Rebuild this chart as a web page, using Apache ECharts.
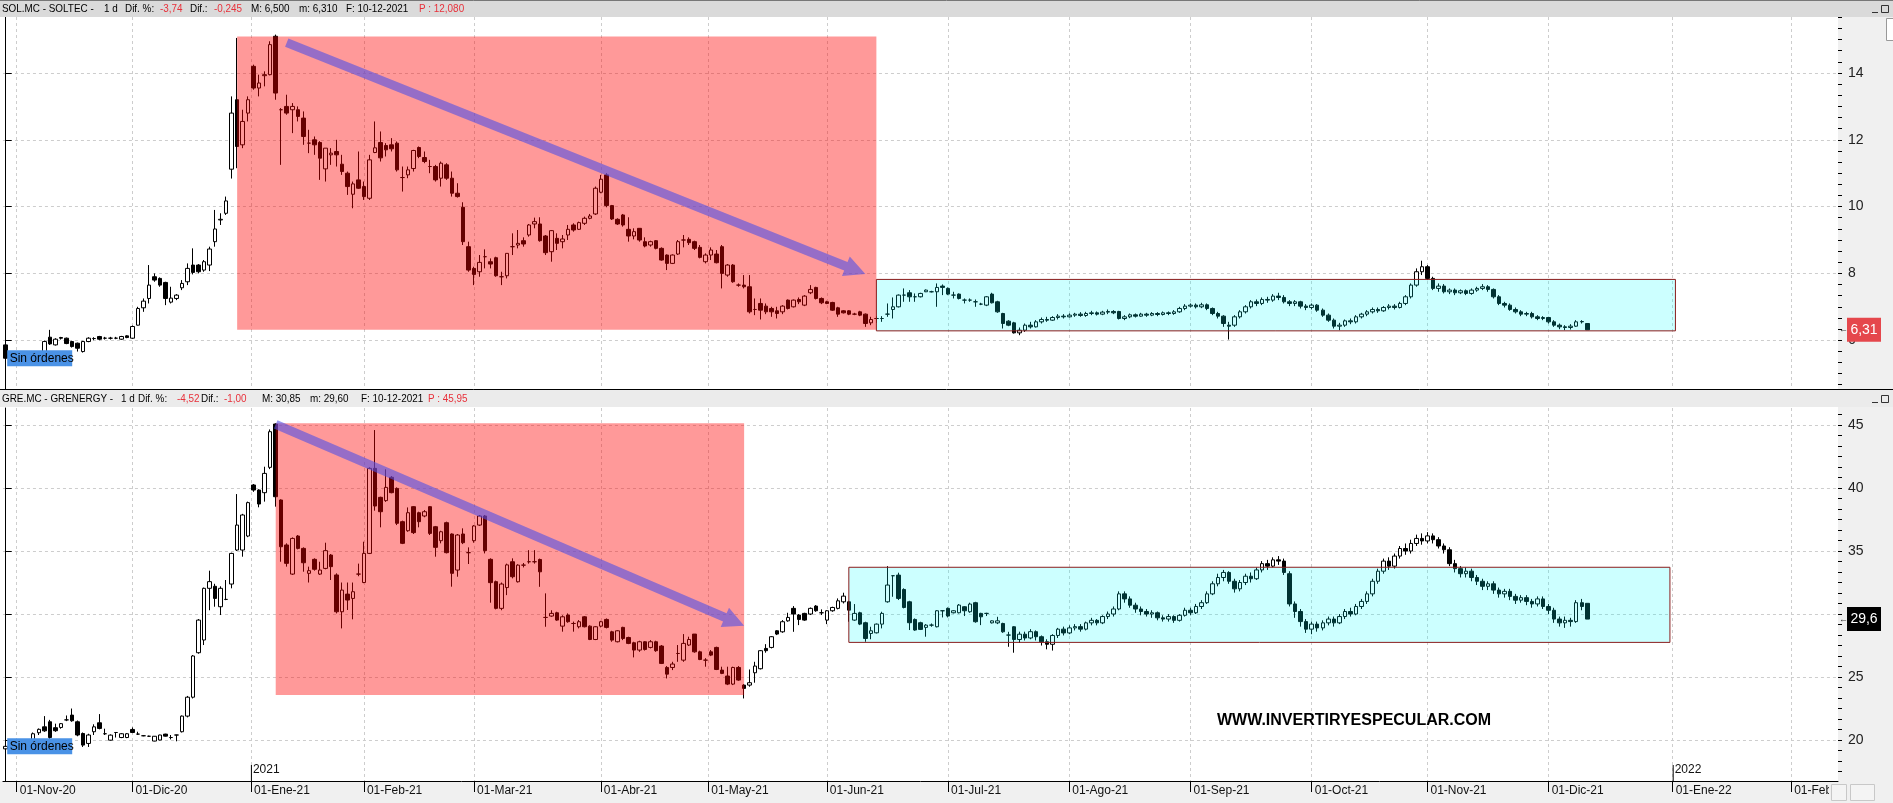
<!DOCTYPE html>
<html>
<head>
<meta charset="utf-8">
<script src="https://cdn.jsdelivr.net/npm/echarts@6.0.0/dist/echarts.min.js"></script>
<style>html,body{margin:0;padding:0;background:#fff;}#c{width:1893px;height:803px;}</style>
</head>
<body>
<div id="c"></div>
<script>
// ---------- axis / category definitions ----------
const firstDay = '2020-10-29';
const lastDay = '2022-02-11';
const holidays = ['2020-12-25', '2021-01-01', '2021-04-02', '2021-04-05'];
const monthNames = ['Ene','Feb','Mar','Abr','May','Jun','Jul','Ago','Sep','Oct','Nov','Dic'];
const monthStarts = ['2020-11-01','2020-12-01','2021-01-01','2021-02-01','2021-03-01','2021-04-01','2021-05-01','2021-06-01','2021-07-01','2021-08-01','2021-09-01','2021-10-01','2021-11-01','2021-12-01','2022-01-01','2022-02-01'];
const yearMarks = ['2021','2022'];
const solTicks = [6, 8, 10, 12, 14];
const greTicks = [20, 25, 30, 35, 40, 45];
const solRange = [4.539, 15.677];
const greRange = [16.75, 46.35];

// ---------- SOLTEC daily candles [open, close, low, high] ----------
const solOHLC = [
[5.86,5.46,5.31,6.01],[5.45,5.5,5.38,5.58],[5.5,5.45,5.4,5.55],[5.45,5.52,5.4,5.58],[5.52,5.48,5.42,5.56],[5.48,5.55,5.44,5.6],[5.55,5.6,5.5,5.65],[5.62,5.96,5.58,5.99],
[6.09,5.89,5.86,6.31],[5.86,6.03,5.84,6.06],[6.08,6.06,6.02,6.1],[6.06,5.9,5.88,6.08],[5.96,5.81,5.78,5.98],[5.91,5.76,5.66,5.93],[5.66,5.96,5.63,5.98],[5.96,6.06,5.94,6.09],
[6.05,6.05,6.0,6.09],[6.11,6.03,6.0,6.13],[6.06,6.06,6.02,6.1],[6.06,6.06,6.02,6.1],[6.06,6.06,6.03,6.1],[6.03,6.11,6.01,6.13],[6.13,6.08,6.06,6.15],[6.06,6.41,6.04,6.44],
[6.45,6.95,6.44,7.0],[6.97,7.17,6.85,7.25],[7.25,7.65,7.1,8.25],[7.9,7.8,7.75,8.0],[7.85,7.65,7.6,7.88],[7.73,7.25,7.05,7.75],[7.14,7.26,7.1,7.6],[7.25,7.35,7.2,7.38],
[7.57,7.7,7.5,7.8],[7.75,8.15,7.65,8.3],[8.25,8.03,7.97,8.75],[8.25,8.05,8.0,8.28],[8.1,8.35,8.05,8.4],[8.25,8.73,8.07,8.8],[8.95,9.33,8.8,9.9],[9.6,9.62,9.45,9.8],
[9.8,10.17,9.75,10.3],[11.12,12.8,10.84,13.3],[13.2,11.8,11.15,15.05],[11.85,12.55,11.75,12.9],[12.8,13.2,12.55,13.3],[14.2,13.55,13.5,14.25],[13.55,13.7,13.3,13.95],[13.92,13.95,13.6,14.05],
[13.95,14.85,13.93,14.95],[15.1,13.4,13.2,15.15],[12.9,12.9,11.25,12.95],[13.0,12.8,12.75,13.35],[12.9,13.0,12.2,13.1],[12.9,12.7,12.55,13.0],[12.65,12.1,11.85,12.85],[11.9,11.9,11.6,12.3],
[12.0,11.85,11.55,12.1],[11.92,11.45,10.8,11.96],[11.13,11.75,10.75,11.75],[11.55,11.6,11.25,11.75],[11.65,11.55,11.2,12.0],[11.27,11.05,10.95,11.55],[11.0,10.6,10.35,11.05],[10.37,10.68,9.95,10.75],
[10.8,10.55,10.53,11.65],[10.6,10.3,10.2,10.75],[10.25,11.4,10.2,11.55],[11.62,11.76,11.6,12.55],[11.92,11.46,11.35,12.25],[11.83,11.7,11.5,11.9],[11.85,11.73,11.65,12.05],[11.9,11.1,11.05,11.95],
[10.87,10.87,10.45,11.2],[10.95,11.1,10.85,11.2],[11.14,11.68,11.05,11.7],[11.77,11.5,11.45,11.8],[11.47,11.35,11.3,11.65],[11.2,11.2,11.0,11.4],[11.2,10.8,10.75,11.25],[10.85,11.3,10.6,11.35],
[11.25,10.85,10.8,11.3],[10.85,10.4,10.3,11.05],[10.4,10.3,10.27,10.7],[9.98,8.95,8.85,10.13],[8.8,8.1,8.05,8.95],[8.15,7.97,7.65,8.2],[8.05,8.33,7.9,8.55],[8.5,8.5,8.15,8.72],
[8.35,8.28,8.15,8.45],[8.47,7.93,7.9,8.5],[7.9,7.9,7.65,8.05],[7.93,8.6,7.85,8.6],[8.8,8.8,8.55,9.2],[8.85,8.9,8.75,9.3],[8.98,8.88,8.8,9.08],[9.15,9.45,9.1,9.48],
[9.48,9.55,9.35,9.67],[9.48,8.98,8.95,9.68],[9.12,8.62,8.55,9.15],[8.65,9.28,8.35,9.3],[9.05,8.9,8.7,9.2],[8.95,9.03,8.75,9.15],[9.15,9.32,9.0,9.45],[9.45,9.3,9.25,9.5],
[9.32,9.52,9.3,9.55],[9.5,9.65,9.45,9.7],[9.65,9.72,9.62,9.78],[9.78,10.55,9.75,10.6],[10.43,10.82,10.4,10.95],[10.95,10.03,9.98,11.0],[10.03,9.63,9.6,10.05],[9.62,9.48,9.45,9.65],
[9.75,9.45,9.4,9.78],[9.32,9.12,8.95,9.68],[9.12,9.25,9.02,9.35],[9.35,9.0,8.95,9.35],[8.95,8.82,8.78,9.08],[8.85,8.95,8.8,8.98],[8.98,8.75,8.72,9.0],[8.75,8.4,8.38,8.78],
[8.55,8.3,8.1,8.57],[8.3,8.55,8.28,8.57],[8.58,8.95,8.55,9.0],[9.0,9.0,8.78,9.15],[9.02,8.92,8.85,9.08],[8.95,8.75,8.7,8.98],[8.78,8.48,8.45,8.85],[8.35,8.55,8.3,8.6],
[8.55,8.7,8.4,8.78],[8.58,8.32,8.3,8.7],[8.8,8.0,7.55,8.85],[7.95,8.25,7.9,8.28],[8.25,7.75,7.72,8.28],[7.65,7.65,7.6,7.7],[7.65,7.6,7.55,7.95],[7.6,6.85,6.8,7.95],
[6.92,6.92,6.75,7.25],[7.1,6.9,6.62,7.25],[7.02,6.85,6.78,7.1],[6.95,6.85,6.7,7.0],[6.88,6.8,6.65,7.0],[6.85,7.02,6.78,7.05],[7.2,6.95,6.92,7.22],[7.0,7.2,6.98,7.22],
[7.22,7.15,7.08,7.28],[7.05,7.32,7.02,7.35],[7.42,7.52,7.38,7.65],[7.58,7.25,7.22,7.6],[7.25,7.12,7.08,7.28],[7.15,7.1,7.08,7.18],[7.13,6.9,6.88,7.15],[6.97,6.78,6.7,7.0],
[6.88,6.82,6.8,6.9],[6.88,6.78,6.75,6.9],[6.78,6.78,6.75,6.82],[6.85,6.75,6.72,6.88],[6.78,6.5,6.4,6.8],[6.52,6.62,6.45,6.7],[6.65,6.65,6.52,6.72],[6.65,6.65,6.55,6.72],
[6.78,6.78,6.7,7.1],[6.92,7.0,6.65,7.28],[7.0,7.35,6.98,7.37],[7.35,7.35,7.15,7.55],[7.42,7.3,7.15,7.5],[7.3,7.3,7.15,7.4],[7.3,7.4,7.28,7.42],[7.45,7.5,7.44,7.52],
[7.45,7.45,7.43,7.48],[7.45,7.58,7.0,7.7],[7.62,7.58,7.35,7.67],[7.55,7.38,7.35,7.58],[7.35,7.35,7.25,7.45],[7.38,7.25,7.22,7.4],[7.2,7.2,7.1,7.25],[7.2,7.2,7.15,7.25],
[7.15,7.15,7.0,7.22],[7.08,7.08,7.05,7.12],[7.05,7.3,7.02,7.32],[7.38,7.12,7.1,7.42],[7.15,6.85,6.82,7.18],[6.8,6.5,6.35,6.82],[6.57,6.45,6.42,6.6],[6.52,6.22,6.2,6.55],
[6.22,6.3,6.15,6.38],[6.3,6.45,6.25,6.5],[6.45,6.4,6.35,6.55],[6.4,6.55,6.38,6.6],[6.55,6.62,6.5,6.68],[6.62,6.6,6.55,6.7],[6.6,6.68,6.58,6.72],[6.68,6.72,6.62,6.78],
[6.72,6.7,6.65,6.78],[6.7,6.75,6.68,6.8],[6.75,6.78,6.7,6.82],[6.78,6.74,6.7,6.84],[6.74,6.8,6.7,6.85],[6.8,6.82,6.75,6.88],[6.82,6.78,6.74,6.86],[6.78,6.84,6.75,6.88],
[6.84,6.86,6.78,6.92],[6.86,6.82,6.78,6.9],[6.86,6.65,6.62,6.88],[6.65,6.7,6.6,6.75],[6.7,6.76,6.66,6.8],[6.76,6.72,6.68,6.8],[6.72,6.78,6.7,6.82],[6.78,6.75,6.7,6.82],
[6.75,6.8,6.72,6.84],[6.8,6.77,6.72,6.84],[6.77,6.82,6.74,6.86],[6.82,6.8,6.75,6.86],[6.8,6.85,6.76,6.9],[6.85,6.95,6.82,7.0],[6.95,7.02,6.9,7.08],[7.02,7.05,6.98,7.1],
[7.05,7.0,6.95,7.1],[7.0,7.06,6.96,7.12],[7.06,6.95,6.9,7.1],[6.95,6.8,6.75,6.98],[6.8,6.72,6.65,6.85],[6.72,6.5,6.4,6.75],[6.45,6.42,6.02,6.55],[6.45,6.7,6.4,6.75],
[6.7,6.85,6.65,6.9],[6.85,7.0,6.8,7.05],[7.0,7.15,6.95,7.2],[7.15,7.1,7.02,7.22],[7.1,7.22,7.05,7.28],[7.22,7.2,7.12,7.3],[7.2,7.32,7.15,7.38],[7.32,7.28,7.2,7.42],
[7.28,7.15,7.1,7.35],[7.15,7.1,7.02,7.2],[7.1,7.15,7.02,7.2],[7.15,7.02,6.95,7.18],[7.02,6.98,6.9,7.08],[6.98,7.05,6.92,7.1],[7.05,6.9,6.85,7.08],[6.9,6.75,6.7,6.95],
[6.75,6.6,6.55,6.8],[6.6,6.42,6.35,6.65],[6.42,6.45,6.3,6.52],[6.45,6.58,6.4,6.62],[6.58,6.55,6.48,6.65],[6.55,6.7,6.5,6.75],[6.7,6.78,6.65,6.82],[6.78,6.85,6.72,6.9],
[6.85,6.92,6.8,6.98],[6.92,6.88,6.82,6.98],[6.88,6.98,6.85,7.02],[6.98,7.02,6.92,7.08],[7.02,6.98,6.92,7.08],[6.98,7.1,6.95,7.15],[7.1,7.3,7.05,7.35],[7.3,7.65,7.25,7.7],
[7.65,8.05,7.6,8.15],[8.05,8.2,7.95,8.38],[8.2,7.85,7.8,8.25],[7.85,7.55,7.5,7.9],[7.55,7.62,7.45,7.7],[7.62,7.45,7.4,7.68],[7.45,7.5,7.38,7.55],[7.5,7.42,7.35,7.55],
[7.42,7.48,7.38,7.52],[7.48,7.4,7.35,7.52],[7.4,7.5,7.36,7.55],[7.5,7.55,7.45,7.6],[7.55,7.6,7.5,7.68],[7.6,7.52,7.45,7.65],[7.52,7.3,7.25,7.55],[7.3,7.1,7.05,7.35],
[7.1,7.05,6.98,7.15],[7.05,6.92,6.88,7.1],[6.92,6.85,6.8,6.98],[6.85,6.78,6.72,6.9],[6.78,6.8,6.72,6.85],[6.8,6.7,6.65,6.85],[6.7,6.65,6.6,6.75],[6.65,6.68,6.6,6.72],
[6.68,6.55,6.5,6.7],[6.55,6.45,6.4,6.6],[6.45,6.4,6.33,6.5],[6.4,6.38,6.3,6.45],[6.38,6.42,6.32,6.48],[6.42,6.55,6.4,6.6],[6.55,6.56,6.5,6.6],[6.5,6.31,6.31,6.5]
];

// ---------- GRENERGY daily candles [open, close, low, high] ----------
const greOHLC = [
[19.3,19.5,19.2,19.6],[19.5,19.6,19.3,19.8],[19.6,19.4,19.2,19.7],[19.4,19.5,19.2,19.7],[19.5,19.7,19.4,19.8],[19.86,20.5,19.8,20.6],[20.58,20.85,20.4,20.92],[21.05,20.73,20.65,21.9],
[21.45,20.2,20.05,21.6],[20.98,20.74,20.65,21.3],[21.0,21.3,20.9,21.35],[21.6,21.6,21.5,21.95],[21.98,21.53,21.45,22.5],[21.45,20.4,20.3,21.55],[20.52,19.6,19.45,20.6],[19.73,20.4,19.45,20.5],
[20.66,21.05,20.4,21.25],[21.37,20.92,20.85,22.06],[20.5,20.5,20.4,20.9],[19.99,20.39,19.95,20.45],[20.6,20.6,20.2,20.62],[20.2,20.5,20.15,20.55],[20.2,20.5,20.15,20.55],[20.84,20.6,20.55,21.0],
[20.47,20.47,20.4,20.66],[20.34,20.34,20.3,20.4],[20.3,20.3,20.25,20.35],[19.92,20.3,19.9,20.32],[20.0,20.4,19.98,20.42],[20.47,20.31,20.28,20.5],[20.2,20.2,20.05,20.4],[20.4,20.4,19.9,20.42],
[20.66,21.9,20.6,21.95],[21.9,23.4,21.8,23.5],[23.4,26.67,23.3,26.75],[26.93,29.52,26.85,29.6],[27.94,32.04,27.54,32.1],[32.04,32.57,30.3,33.44],[32.2,31.24,30.58,32.4],[30.58,32.04,29.92,32.2],
[31.16,31.16,31.1,32.7],[32.38,34.81,32.04,34.87],[35.08,37.06,35.0,39.52],[35.08,37.86,34.55,37.95],[36.19,38.84,36.1,38.92],[40.24,39.84,39.7,40.32],[39.84,38.73,38.47,39.9],[39.63,41.16,38.92,41.69],
[41.64,44.47,41.5,44.65],[45.08,39.31,38.52,45.13],[39.05,35.34,34.15,39.1],[35.48,34.02,33.76,35.61],[33.17,36.0,33.1,36.08],[36.19,35.21,35.13,36.27],[35.21,34.07,33.36,35.29],[33.23,33.44,32.5,33.76],
[34.34,33.55,33.44,34.42],[33.17,33.49,33.1,34.15],[33.62,35.03,33.55,35.66],[34.68,33.76,32.7,34.76],[33.1,30.18,30.05,33.23],[30.18,31.9,28.86,32.5],[31.58,31.11,30.32,32.5],[31.24,31.77,29.58,32.5],
[33.17,33.17,33.0,34.0],[32.5,34.81,32.45,35.74],[34.81,41.56,34.76,41.64],[41.56,38.57,38.2,44.6],[39.26,38.12,36.88,39.31],[39.0,40.05,38.9,41.48],[40.85,39.63,39.58,40.95],[39.97,37.2,37.06,40.05],
[37.33,35.61,35.55,37.41],[36.61,38.04,36.53,38.46],[38.52,36.46,36.35,38.57],[38.04,37.33,36.88,38.12],[37.78,38.12,37.68,38.25],[38.52,36.4,36.27,38.57],[36.93,35.29,34.55,36.99],[35.82,36.53,35.61,36.61],
[37.25,34.87,34.81,37.33],[36.35,33.23,32.17,36.4],[33.49,36.27,32.96,36.35],[36.35,35.66,35.55,36.8],[34.87,34.87,33.97,35.29],[35.82,36.99,35.66,37.06],[37.06,37.78,36.99,37.86],[37.78,35.03,34.81,37.86],
[34.34,32.49,30.9,34.42],[32.57,30.45,30.37,32.65],[30.45,32.38,30.3,32.5],[32.1,33.9,31.5,34.0],[34.15,32.96,32.83,34.42],[32.56,33.88,32.5,33.95],[33.88,33.88,33.7,34.05],[34.15,34.15,34.0,35.07],
[34.15,34.15,34.0,35.07],[34.33,33.35,32.16,34.4],[29.73,29.73,28.99,31.64],[29.84,30.05,29.78,30.3],[30.1,29.52,29.46,30.18],[29.04,29.78,28.6,29.9],[29.92,29.39,29.31,30.05],[29.25,29.25,28.6,29.4],
[28.99,29.39,28.86,29.52],[29.78,28.99,28.94,29.84],[29.04,27.98,27.93,29.1],[27.98,28.99,27.93,29.04],[29.04,29.39,28.94,29.46],[29.57,28.94,28.86,29.65],[28.59,27.93,27.8,28.67],[27.8,28.67,27.75,28.72],
[28.94,28.06,27.93,28.99],[28.14,27.67,27.61,28.2],[27.72,27.14,26.56,27.8],[27.14,27.8,27.0,27.88],[27.8,27.19,27.1,27.85],[27.35,27.8,27.27,27.93],[27.8,27.09,27.0,27.88],[27.46,26.08,26.03,27.54],
[25.76,25.23,24.89,25.87],[25.76,26.03,25.55,26.21],[26.87,26.87,26.21,27.54],[26.34,27.67,26.21,28.41],[27.54,27.98,27.46,28.2],[28.41,27.0,26.93,28.41],[27.0,26.39,26.34,27.09],[26.34,26.34,25.82,26.5],
[27.0,26.74,26.66,27.14],[27.35,25.6,25.55,27.41],[25.55,25.29,25.23,25.82],[25.08,24.44,24.36,25.82],[24.44,25.76,24.36,25.82],[25.76,24.76,24.7,25.87],[24.36,24.1,23.3,24.44],[24.36,24.55,24.23,25.6],
[25.34,25.87,24.55,26.21],[25.66,27.09,25.6,27.14],[27.27,27.09,26.93,27.61],[27.35,28.2,27.27,28.25],[28.67,28.41,28.33,28.72],[28.59,29.39,28.51,29.52],[29.46,29.73,29.39,30.1],[30.45,30.0,28.59,30.63],
[29.92,29.57,29.12,30.0],[30.05,29.52,29.46,30.1],[30.0,30.45,29.92,30.52],[30.63,30.26,30.18,30.71],[30.1,30.1,29.92,30.37],[29.52,30.26,29.2,30.31],[30.26,30.52,30.18,30.58],[30.45,31.05,30.37,31.24],
[30.97,31.42,30.84,31.69],[30.97,30.31,29.39,31.05],[29.52,30.05,29.46,30.79],[30.1,29.2,29.12,30.18],[29.31,28.06,27.8,29.39],[28.46,28.67,28.0,28.99],[28.51,29.2,28.46,29.25],[29.2,30.05,28.86,30.18],
[30.97,32.3,30.9,33.8],[33.04,33.04,31.37,33.04],[33.09,31.24,31.11,33.28],[31.95,30.52,30.45,32.04],[30.97,29.31,28.73,31.05],[29.57,28.73,28.67,29.65],[29.31,28.78,28.73,29.39],[28.94,29.12,28.2,29.2],
[29.12,29.12,28.99,29.25],[28.99,30.26,28.94,30.31],[30.26,30.26,29.73,30.31],[30.45,29.84,29.73,30.52],[30.1,30.26,30.05,30.31],[30.1,30.71,30.05,30.79],[30.58,30.26,29.84,30.63],[30.18,30.79,30.1,30.9],
[30.9,29.39,29.31,30.97],[30.05,29.78,29.12,30.1],[30.05,30.05,29.84,30.1],[29.3,29.46,29.25,29.5],[29.3,29.46,29.2,29.78],[29.25,28.59,28.51,29.31],[28.33,28.33,27.4,28.59],[28.99,27.98,26.93,29.04],
[27.98,28.4,27.7,28.6],[28.4,28.1,27.9,28.6],[28.1,28.6,28.0,28.8],[28.6,28.2,27.9,28.7],[28.2,27.8,27.5,28.3],[27.8,27.6,27.2,28.0],[27.6,28.3,27.1,28.4],[28.3,28.8,28.1,28.9],
[28.8,28.5,28.3,29.0],[28.5,28.9,28.4,29.1],[28.9,29.0,28.7,29.2],[29.0,28.8,28.6,29.2],[28.8,29.3,28.7,29.4],[29.3,29.5,29.1,29.7],[29.5,29.3,29.1,29.6],[29.3,29.8,29.2,29.9],
[29.8,30.0,29.6,30.2],[30.0,30.4,29.8,30.6],[30.4,31.6,30.3,31.8],[31.6,31.2,30.9,31.8],[31.2,30.7,30.5,31.4],[30.7,30.4,30.1,30.9],[30.4,30.2,29.9,30.6],[30.2,30.0,29.8,30.4],
[30.0,30.1,29.7,30.3],[30.1,29.7,29.5,30.2],[29.7,29.6,29.4,29.9],[29.6,29.8,29.4,30.0],[29.8,29.5,29.3,29.9],[29.5,29.9,29.4,30.0],[29.9,30.3,29.8,30.5],[30.3,30.1,29.9,30.5],
[30.1,30.6,30.0,30.8],[30.6,30.9,30.4,31.1],[30.9,31.6,30.8,31.8],[31.6,32.4,31.5,32.6],[32.4,32.9,32.2,33.2],[32.9,33.3,32.6,33.5],[33.3,32.6,32.4,33.4],[32.6,32.0,31.7,32.8],
[32.0,32.5,31.8,32.7],[32.5,33.0,32.3,33.2],[33.0,32.8,32.5,33.3],[32.8,33.5,32.7,33.7],[33.5,34.0,33.3,34.2],[34.0,33.8,33.5,34.3],[33.8,34.3,33.7,34.5],[34.3,34.2,33.9,34.6],
[34.2,33.3,33.1,34.4],[33.2,30.8,30.6,33.4],[30.8,30.2,29.7,31.0],[30.2,29.4,29.0,30.4],[29.4,28.8,28.5,29.6],[28.8,29.2,28.4,29.4],[29.2,28.9,28.6,29.4],[28.9,29.3,28.7,29.5],
[29.3,29.6,29.1,29.8],[29.6,29.3,29.0,29.8],[29.3,29.8,29.2,30.0],[29.8,30.2,29.6,30.4],[30.2,30.0,29.8,30.5],[30.0,30.6,29.9,30.8],[30.6,31.0,30.4,31.2],[31.0,31.6,30.8,31.8],
[31.6,32.6,31.4,32.8],[32.6,33.4,32.4,33.6],[33.4,34.2,33.2,34.4],[34.2,33.8,33.5,34.5],[33.8,34.6,33.6,34.8],[34.6,35.2,34.4,35.4],[35.2,35.0,34.7,35.6],[35.0,35.6,34.8,35.9],
[35.6,36.0,35.4,36.3],[36.0,35.8,35.5,36.4],[35.8,36.2,35.6,36.5],[36.2,35.9,35.6,36.4],[35.9,35.4,35.2,36.1],[35.4,35.1,34.8,35.6],[35.1,34.0,33.8,35.3],[34.0,33.6,33.3,34.3],
[33.6,33.2,32.9,33.8],[33.2,33.4,32.9,33.7],[33.4,32.9,32.6,33.6],[32.9,32.6,32.3,33.1],[32.6,32.2,31.9,32.8],[32.2,32.4,31.9,32.6],[32.4,31.9,31.6,32.6],[31.9,31.6,31.3,32.1],
[31.6,31.8,31.3,32.0],[31.8,31.4,31.1,32.0],[31.4,31.1,30.8,31.6],[31.1,31.3,30.9,31.5],[31.3,31.0,30.7,31.5],[31.0,30.8,30.5,31.2],[30.8,31.2,30.6,31.4],[31.2,30.6,30.4,31.4],
[30.6,30.3,30.0,30.8],[30.3,29.6,29.3,30.5],[29.6,29.3,29.0,29.8],[29.3,29.5,28.9,29.8],[29.5,29.4,29.0,29.7],[29.4,30.9,29.3,31.1],[30.9,30.6,30.3,31.2],[30.85,29.6,29.6,30.85]
];

// ---------- annotations (dates + prices) ----------
const solRedBox = {from:'2020-12-29', to:'2021-06-14', top:15.09, bottom:6.31};
const solCyanBox = {from:'2021-06-14', to:'2022-01-03', top:7.82, bottom:6.28};
const solArrow = {from:['2021-01-12', 14.91], to:['2021-06-10', 7.98]};
const greRedBox = {from:'2021-01-08', to:'2021-05-11', top:45.13, bottom:23.57};
const greCyanBox = {from:'2021-06-07', to:'2021-12-31', top:33.71, bottom:27.75};
const greArrow = {from:['2021-01-08', 45.05], to:['2021-05-11', 29.07]};
const solLastLabel = '6,31';
const greLastLabel = '29,6';
const solHeader = [['SOL.MC - SOLTEC -',2,'#000'],['1 d',104,'#000'],['Dif. %:',125,'#000'],['-3,74',160,'#e8303a'],['Dif.:',190,'#000'],['-0,245',214,'#e8303a'],['M: 6,500',251,'#000'],['m: 6,310',299,'#000'],['F: 10-12-2021',346,'#000'],['P : 12,080',419,'#e8303a']];
const greHeader = [['GRE.MC - GRENERGY -',2,'#000'],['1 d',121,'#000'],['Dif. %:',138,'#000'],['-4,52',177,'#e8303a'],['Dif.:',201,'#000'],['-1,00',224,'#e8303a'],['M: 30,85',262,'#000'],['m: 29,60',310,'#000'],['F: 10-12-2021',361,'#000'],['P : 45,95',428,'#e8303a']];

// ---------- build categories ----------
function iso(d){return d.toISOString().slice(0,10);}
const days = [];
(function(){
  let t = Date.parse(firstDay + 'T00:00:00Z'); const end = Date.parse(lastDay + 'T00:00:00Z');
  while (t <= end) { const d = new Date(t); const wd = d.getUTCDay(); const s = iso(d);
    if (wd !== 0 && wd !== 6 && holidays.indexOf(s) < 0) days.push(s); t += 86400000; }
})();
const dayIndex = {}; days.forEach((d,i)=>dayIndex[d]=i);
function firstTradingIdx(s){ for (let i=0;i<days.length;i++) if (days[i] >= s) return i; return days.length-1; }
const monthPos = []; const monthLabel = {};
monthStarts.forEach(s=>{
  const i = firstTradingIdx(s); const wd = new Date(s+'T00:00:00Z').getUTCDay();
  let p = i; if (days[i] !== s && wd !== 0) p = i - 0.5;
  monthPos.push(p);
  const m = parseInt(s.slice(5,7),10)-1;
  monthLabel[p.toFixed(2)] = '01-' + monthNames[m] + '-' + s.slice(2,4);
});
const yearPos = monthStarts.filter(s=>s.slice(5,7)==='01').map(s=>monthPos[monthStarts.indexOf(s)]);

function minorVals(lo, hi, step){ const out=[]; const n0=Math.ceil(lo/step), n1=Math.floor(hi/step); for(let k=n0;k<=n1;k++) out.push(+(k*step).toFixed(4)); return out; }
const solMinor = minorVals(solRange[0], solRange[1], 1/3);
const greMinor = minorVals(greRange[0], greRange[1], 5/6);

const FONT = 'Liberation Sans, Arial, sans-serif';
const gridLine = {show:true, lineStyle:{color:'#cdcdcd', width:1, type:[3,3]}};

function yMain(grid, rng, ticks){ return {type:'value', gridIndex:grid, position:'right', min:rng[0], max:rng[1],
  axisLine:{show:true, lineStyle:{color:'#000', width:1}}, axisTick:{show:true, length:6, customValues:ticks, lineStyle:{color:'#000'}},
  axisLabel:{customValues:ticks, margin:10, color:'#222', fontSize:14, fontFamily:FONT}, splitLine:gridLine}; }
function yMinor(grid, rng, vals){ return {type:'value', gridIndex:grid, position:'right', min:rng[0], max:rng[1],
  axisLine:{show:false}, axisTick:{show:true, length:4, customValues:vals, lineStyle:{color:'#000'}}, axisLabel:{show:false}, splitLine:{show:false}}; }

const candleStyle = {color:'#ffffff', color0:'#000000', borderColor:'#000000', borderColor0:'#000000', borderWidth:1};

const chart = echarts.init(document.getElementById('c'));
chart.setOption({
  animation:false,
  grid:[{left:2.94, right:55, top:17, height:372}, {left:2.94, right:55, top:408, height:373}],
  xAxis:[
    {type:'category', gridIndex:0, data:days, show:false, boundaryGap:true},
    {type:'value', gridIndex:0, min:-0.5, max:days.length-0.5, axisLine:{show:false}, axisTick:{show:false, customValues:monthPos}, axisLabel:{show:false}, splitLine:gridLine},
    {type:'category', gridIndex:1, data:days, show:false, boundaryGap:true},
    {type:'value', gridIndex:1, min:-0.5, max:days.length-0.5, position:'bottom',
      axisLine:{show:true, lineStyle:{color:'#000'}}, axisTick:{show:true, length:11, customValues:monthPos, lineStyle:{color:'#000'}},
      axisLabel:{customValues:monthPos, formatter:v=>monthLabel[(+v).toFixed(2)]||'', align:'left', padding:[0,0,0,3], margin:4, fontSize:12, color:'#111', fontFamily:FONT, hideOverlap:false},
      splitLine:gridLine}
  ],
  yAxis:[ yMain(0, solRange, solTicks), yMinor(0, solRange, solMinor), yMain(1, greRange, greTicks), yMinor(1, greRange, greMinor) ],
  series:[
    {type:'candlestick', name:'SOLTEC', xAxisIndex:0, yAxisIndex:0, data:solOHLC, barWidth:4, itemStyle:candleStyle, clip:false},
    {type:'candlestick', name:'GRENERGY', xAxisIndex:2, yAxisIndex:2, data:greOHLC, barWidth:4, itemStyle:candleStyle, clip:false}
  ]
});

// ---------- overlays computed through the axes ----------
function px(xa, ya, idx, val){ return chart.convertToPixel({xAxisIndex:xa, yAxisIndex:ya}, [idx, val]); }
function boxRect(xa, ya, b){ const a = px(xa, ya, dayIndex[b.from], b.top), c = px(xa, ya, dayIndex[b.to], b.bottom);
  return {x:a[0], y:a[1], width:c[0]-a[0], height:c[1]-a[1]}; }
function arrowPoly(p0, p1, hw, hl, hh){
  const dx=p1[0]-p0[0], dy=p1[1]-p0[1], len=Math.hypot(dx,dy), ux=dx/len, uy=dy/len, nx=-uy, ny=ux;
  const bx=p1[0]-ux*hl, by=p1[1]-uy*hl;
  return [[p0[0]+nx*hw,p0[1]+ny*hw],[bx+nx*hw,by+ny*hw],[bx+nx*hh,by+ny*hh],[p1[0],p1[1]],[bx-nx*hh,by-ny*hh],[bx-nx*hw,by-ny*hw],[p0[0]-nx*hw,p0[1]-ny*hw]];
}
const W = 1893;
const g = [];
// backgrounds
g.push({type:'rect', z:-10, shape:{x:1838, y:17, width:W-1838, height:372}, style:{fill:'#f0f0f0'}});
g.push({type:'rect', z:-10, shape:{x:1838, y:407, width:W-1838, height:374}, style:{fill:'#f0f0f0'}});
g.push({type:'rect', z:-10, shape:{x:0, y:781, width:W, height:22}, style:{fill:'#f0f0f0'}});
// boxes & arrows
[[1,0,solRedBox,'red'],[1,0,solCyanBox,'cyan'],[3,2,greRedBox,'red'],[3,2,greCyanBox,'cyan']].forEach(([xa,ya,b,k])=>{
  const r = boxRect(xa, ya, b);
  g.push({type:'rect', z:50, shape:r, style: k==='red' ? {fill:'rgba(255,0,0,0.4)'} : {fill:'rgba(0,255,255,0.2)', stroke:'#8a1c1c', lineWidth:1}});
});
[[1,0,solArrow],[3,2,greArrow]].forEach(([xa,ya,a])=>{
  const p0 = px(xa, ya, dayIndex[a.from[0]], a.from[1]), p1 = px(xa, ya, dayIndex[a.to[0]], a.to[1]);
  g.push({type:'polygon', z:60, shape:{points:arrowPoly(p0, p1, 4.5, 21, 10.5)}, style:{fill:'rgba(80,80,230,0.6)'}});
});
// headers
g.push({type:'rect', z:70, shape:{x:0, y:0, width:W, height:17}, style:{fill:'#dadada'}});
g.push({type:'rect', z:70, shape:{x:0, y:390, width:W, height:17}, style:{fill:'#ebebeb'}});
g.push({type:'line', z:71, shape:{x1:0, y1:389.5, x2:W, y2:389.5}, style:{stroke:'#000', lineWidth:1}});
g.push({type:'line', z:71, shape:{x1:0, y1:0.5, x2:W, y2:0.5}, style:{stroke:'#777', lineWidth:1}});
[[solHeader, 8.5],[greHeader, 398.5]].forEach(([segs, y])=>{
  segs.forEach(([t,x,c])=>g.push({type:'text', z:72, x:x, y:y, scaleX:0.9, style:{text:t, fill:c, font:'11px '+FONT, textVerticalAlign:'middle'}}));
});
// window buttons
[[4],[394]].forEach(([y])=>{
  g.push({type:'line', z:72, shape:{x1:1872, y1:y+8.5, x2:1878, y2:y+8.5}, style:{stroke:'#333', lineWidth:1}});
  g.push({type:'rect', z:72, shape:{x:1881.5, y:y+1.5, width:7, height:7}, style:{fill:'none', stroke:'#333', lineWidth:1}});
});
g.push({type:'rect', z:72, shape:{x:1886.5, y:18.5, width:8, height:22}, style:{fill:'#fff', stroke:'#999', lineWidth:1}});
// year markers
yearPos.forEach((p,i)=>{
  const q = px(3, 2, p, greRange[0]);
  g.push({type:'line', z:30, shape:{x1:q[0]+0.5, y1:q[1]-16, x2:q[0]+0.5, y2:q[1]}, style:{stroke:'#000', lineWidth:1}});
  g.push({type:'text', z:30, x:q[0]+2, y:q[1]-11, style:{text:yearMarks[i], fill:'#111', font:'12px '+FONT, textVerticalAlign:'middle'}});
});
// bottom-right buttons covering label overflow
g.push({type:'rect', z:40, shape:{x:1829, y:782, width:W-1829, height:21}, style:{fill:'#f0f0f0'}});
g.push({type:'rect', z:41, shape:{x:1831.5, y:784.5, width:15, height:16}, style:{fill:'#f4f4f4', stroke:'#c8c8c8', lineWidth:1}});
g.push({type:'rect', z:41, shape:{x:1850.5, y:784.5, width:24, height:16}, style:{fill:'#f4f4f4', stroke:'#c8c8c8', lineWidth:1}});
// "Sin órdenes" boxes at first close
[[1,0,solOHLC],[3,2,greOHLC]].forEach(([xa,ya,d])=>{
  const q = px(xa, ya, 0, d[0][1]);
  g.push({type:'rect', z:65, shape:{x:q[0]+1.5, y:q[1]-8, width:65, height:16}, style:{fill:'#4a92e6'}});
  g.push({type:'text', z:66, x:q[0]+4, y:q[1], style:{text:'Sin órdenes', fill:'#000', font:'12px '+FONT, textVerticalAlign:'middle'}});
});
// last price tags
[[1,0,solOHLC,solLastLabel,'#e5474c'],[3,2,greOHLC,greLastLabel,'#000']].forEach(([xa,ya,d,lab,col])=>{
  const q = px(xa, ya, d.length-1, d[d.length-1][1]);
  g.push({type:'rect', z:80, shape:{x:1847, y:q[1]-12, width:34, height:24}, style:{fill:col}});
  g.push({type:'text', z:81, x:1864, y:q[1], style:{text:lab, fill:'#fff', font:'14px '+FONT, textAlign:'center', textVerticalAlign:'middle'}});
  g.push({type:'text', z:81, x:1839, y:q[1], style:{text:'←', fill:'#333', font:'9px '+FONT, textVerticalAlign:'middle'}});
});
// watermark
g.push({type:'text', z:75, x:1217, y:721, style:{text:'WWW.INVERTIRYESPECULAR.COM', fill:'#000', font:'bold 16px '+FONT, textVerticalAlign:'middle'}});

chart.setOption({graphic:{elements:g}});
if (solOHLC.length !== 288 || greOHLC.length !== 288) console.error('length mismatch', solOHLC.length, greOHLC.length);
</script>
</body>
</html>
